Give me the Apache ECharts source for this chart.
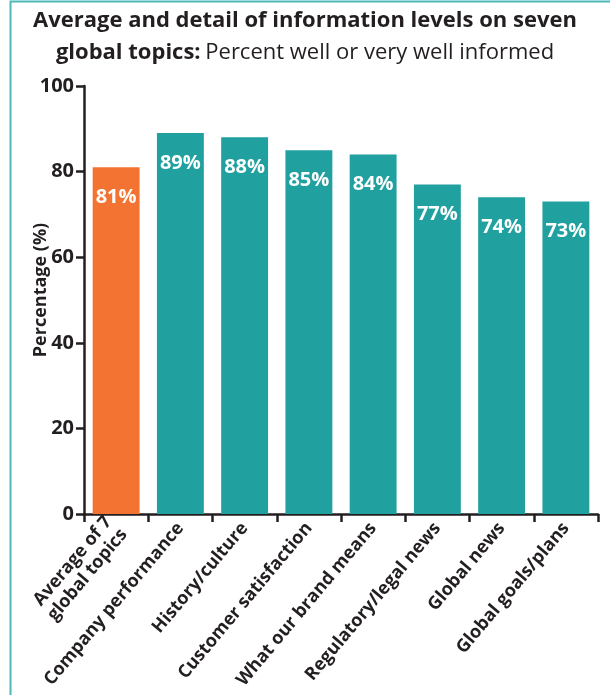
<!DOCTYPE html>
<html>
<head>
<meta charset="utf-8">
<script src="https://cdn.jsdelivr.net/npm/echarts@6/dist/echarts.min.js"></script>
<style>
html,body{margin:0;padding:0;background:#fff;}
#chart{width:610px;height:695px;}
</style>
</head>
<body>
<div id="chart"></div>
<script>
const categories = ['Average of 7\nglobal topics', 'Company performance', 'History/culture', 'Customer satisfaction', 'What our brand means', 'Regulatory/legal news', 'Global news', 'Global goals/plans'];
const values = [81, 89, 88, 85, 84, 77, 74, 73];
const barColors = ['#f37432', '#21a0a0', '#21a0a0', '#21a0a0', '#21a0a0', '#21a0a0', '#21a0a0', '#21a0a0'];
const yTicks = [0, 20, 40, 60, 80, 100];

const FONT = '"Open Sans", "Noto Sans", sans-serif';
const chart = echarts.init(document.getElementById('chart'), null, {renderer: 'canvas'});
chart.setOption({
  animation: false,
  textStyle: {fontFamily: FONT},
  graphic: [{
    type: 'rect', silent: true,
    shape: {x: 10.5, y: 1.5, width: 700, height: 800},
    style: {fill: 'none', stroke: '#4db8b8', lineWidth: 2}
  }],
  title: {
    left: 'center', top: 0,
    text: '{b|Average and detail of information levels on seven}\n{b|global topics:} {n|Percent well or very well informed}',
    textStyle: {
      rich: {
        b: {fontFamily: FONT, fontWeight: 'bold', fontSize: 22, color: '#231f20', lineHeight: 32},
        n: {fontFamily: FONT, fontWeight: 'normal', fontSize: 22, color: '#231f20', lineHeight: 32}
      }
    }
  },
  grid: {left: 84, right: 12, top: 86, bottom: 181, containLabel: false},
  xAxis: {
    type: 'category',
    data: categories,
    axisLine: {lineStyle: {color: '#231f20', width: 2.5}},
    axisTick: {show: true, alignWithLabel: false, length: 8, lineStyle: {color: '#231f20', width: 2.5}},
    axisLabel: {
      interval: 0, rotate: 50, margin: 11,
      fontFamily: FONT, fontWeight: 'bold', fontSize: 18, color: '#231f20',
      lineHeight: 20, align: 'right'
    }
  },
  yAxis: {
    type: 'value', min: 0, max: 100, interval: 20,
    name: 'Percentage (%)', nameLocation: 'middle', nameGap: 34, nameRotate: 90,
    nameMoveOverlap: false,
    nameTextStyle: {fontFamily: FONT, fontWeight: 'bold', fontSize: 18, color: '#231f20', padding: [0, 0, 0, 20]},
    axisLine: {show: true, lineStyle: {color: '#231f20', width: 2.5}},
    axisTick: {show: true, length: 8, lineStyle: {color: '#231f20', width: 2.5}},
    axisLabel: {
      margin: 10, fontFamily: FONT, fontWeight: 'bold', fontSize: 20, color: '#231f20',
      formatter: v => yTicks.includes(v) ? String(v) : ''
    },
    splitLine: {show: false}
  },
  series: [{
    type: 'bar',
    barCategoryGap: '27%',
    data: values.map((v, i) => ({value: v, itemStyle: {color: barColors[i]}})),
    label: {
      show: true, position: 'insideTop', distance: 20,
      formatter: '{c}%',
      fontFamily: FONT, fontWeight: 'bold', fontSize: 20, color: '#ffffff'
    }
  }]
});
</script>
</body>
</html>
